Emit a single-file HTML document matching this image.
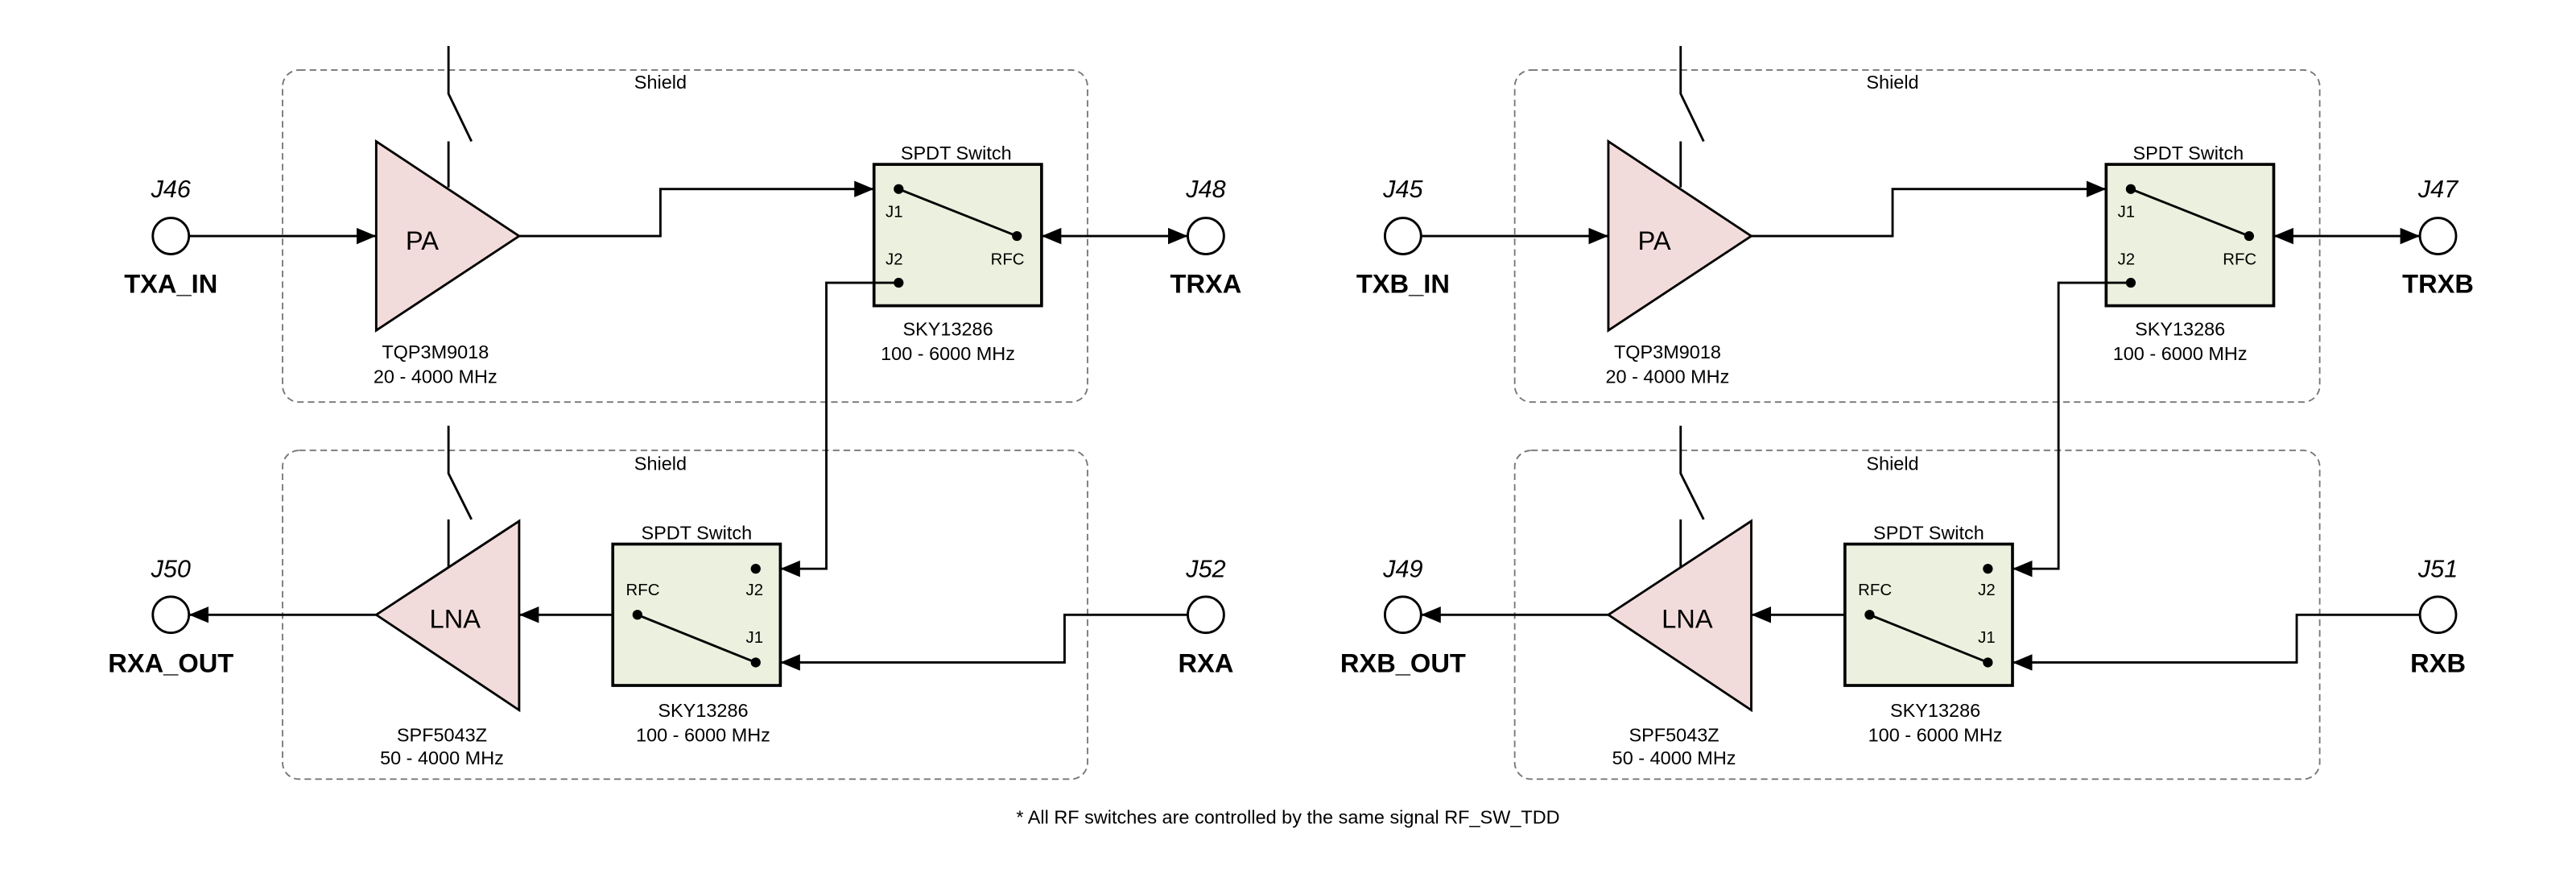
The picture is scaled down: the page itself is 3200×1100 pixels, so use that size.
<!DOCTYPE html>
<html><head><meta charset="utf-8"><style>
html,body{margin:0;padding:0;background:#fff;}
svg{display:block;}
text{font-family:"Liberation Sans",sans-serif;fill:#000;}
.s{font-size:11.5px;text-anchor:middle;}
.sm{font-size:10px;}
.j{font-size:15px;font-style:italic;text-anchor:middle;}
.b{font-size:16px;font-weight:bold;text-anchor:middle;}
.ln{stroke:#000;stroke-width:1.4;fill:none;}
.sh{stroke:#777;stroke-width:0.9;fill:none;stroke-dasharray:4 2.5;}
</style></head><body>
<svg width="3200" height="1100" viewBox="0 0 1568 539" preserveAspectRatio="none" xmlns="http://www.w3.org/2000/svg">
<defs>
<marker id="a" markerWidth="12" markerHeight="10" refX="12" refY="5" orient="auto" markerUnits="userSpaceOnUse"><path d="M0,0 L12,5 L0,10 Z" fill="#000"/></marker>
</defs>

<g id="L">
<rect class="sh" x="172" y="42.6" width="490" height="202" rx="10"/>
<rect class="sh" x="172" y="274" width="490" height="200" rx="10"/>
<text class="s" x="402" y="54">Shield</text>
<text class="s" x="402" y="286">Shield</text>
<polyline class="ln" points="273,28 273,57 287,86"/>
<line class="ln" x1="273" y1="86" x2="273" y2="114"/>
<polyline class="ln" points="273,259 273,288 287,316"/>
<line class="ln" x1="273" y1="316" x2="273" y2="345"/>
<polygon points="229,86 316,143.6 229,201" fill="#f2dcdb" stroke="#000" stroke-width="1.4"/>
<text x="257" y="152" style="font-size:16px;text-anchor:middle">PA</text>
<polygon points="229,374 316,317 316,432" fill="#f2dcdb" stroke="#000" stroke-width="1.4"/>
<text x="277" y="382" style="font-size:16px;text-anchor:middle">LNA</text>
<text class="s" x="265" y="218">TQP3M9018</text>
<text class="s" x="265" y="233">20 - 4000 MHz</text>
<text class="s" x="269" y="451">SPF5043Z</text>
<text class="s" x="269" y="465">50 - 4000 MHz</text>
<rect x="532" y="100" width="102" height="86" fill="#ebf1de" stroke="#000" stroke-width="1.8"/>
<text class="s" x="582" y="97">SPDT Switch</text>
<text class="s" x="577" y="204">SKY13286</text>
<text class="s" x="577" y="219">100 - 6000 MHz</text>
<line class="ln" x1="547" y1="115" x2="619" y2="143.6"/>
<circle cx="547" cy="115" r="3" fill="#000"/><circle cx="619" cy="143.6" r="3" fill="#000"/><circle cx="547" cy="172" r="3" fill="#000"/>
<text class="sm" x="539" y="132">J1</text><text class="sm" x="539" y="161">J2</text><text class="sm" x="603" y="161">RFC</text>
<rect x="373" y="331" width="102" height="86" fill="#ebf1de" stroke="#000" stroke-width="1.8"/>
<text class="s" x="424" y="328">SPDT Switch</text>
<text class="s" x="428" y="436">SKY13286</text>
<text class="s" x="428" y="451">100 - 6000 MHz</text>
<line class="ln" x1="388" y1="374" x2="460" y2="403"/>
<circle cx="388" cy="374" r="3" fill="#000"/><circle cx="460" cy="346" r="3" fill="#000"/><circle cx="460" cy="403" r="3" fill="#000"/>
<text class="sm" x="381" y="362">RFC</text><text class="sm" x="454" y="362">J2</text><text class="sm" x="454" y="391">J1</text>
<line class="ln" x1="115" y1="143.6" x2="229" y2="143.6" marker-end="url(#a)"/>
<polyline class="ln" points="316,143.6 402,143.6 402,115 532,115" marker-end="url(#a)"/>
<polyline class="ln" points="547,172 503,172 503,346 475,346" marker-end="url(#a)"/>
<line class="ln" x1="660" y1="143.6" x2="634" y2="143.6" marker-end="url(#a)"/>
<line class="ln" x1="660" y1="143.6" x2="723" y2="143.6" marker-end="url(#a)"/>
<line class="ln" x1="229" y1="374" x2="115" y2="374" marker-end="url(#a)"/>
<line class="ln" x1="373" y1="374" x2="316" y2="374" marker-end="url(#a)"/>
<polyline class="ln" points="723,374 648,374 648,403 475,403" marker-end="url(#a)"/>
<circle cx="104" cy="143.6" r="11" fill="#fff" stroke="#000" stroke-width="1.4"/>
<circle cx="734" cy="143.6" r="11" fill="#fff" stroke="#000" stroke-width="1.4"/>
<circle cx="104" cy="374" r="11" fill="#fff" stroke="#000" stroke-width="1.4"/>
<circle cx="734" cy="374" r="11" fill="#fff" stroke="#000" stroke-width="1.4"/>
</g>
<text class="j" x="104" y="120">J46</text><text class="b" x="104" y="178">TXA_IN</text>
<text class="j" x="734" y="120">J48</text><text class="b" x="734" y="178">TRXA</text>
<text class="j" x="104" y="351">J50</text><text class="b" x="104" y="409">RXA_OUT</text>
<text class="j" x="734" y="351">J52</text><text class="b" x="734" y="409">RXA</text>

<g transform="translate(750,0)">
<rect class="sh" x="172" y="42.6" width="490" height="202" rx="10"/>
<rect class="sh" x="172" y="274" width="490" height="200" rx="10"/>
<text class="s" x="402" y="54">Shield</text>
<text class="s" x="402" y="286">Shield</text>
<polyline class="ln" points="273,28 273,57 287,86"/>
<line class="ln" x1="273" y1="86" x2="273" y2="114"/>
<polyline class="ln" points="273,259 273,288 287,316"/>
<line class="ln" x1="273" y1="316" x2="273" y2="345"/>
<polygon points="229,86 316,143.6 229,201" fill="#f2dcdb" stroke="#000" stroke-width="1.4"/>
<text x="257" y="152" style="font-size:16px;text-anchor:middle">PA</text>
<polygon points="229,374 316,317 316,432" fill="#f2dcdb" stroke="#000" stroke-width="1.4"/>
<text x="277" y="382" style="font-size:16px;text-anchor:middle">LNA</text>
<text class="s" x="265" y="218">TQP3M9018</text>
<text class="s" x="265" y="233">20 - 4000 MHz</text>
<text class="s" x="269" y="451">SPF5043Z</text>
<text class="s" x="269" y="465">50 - 4000 MHz</text>
<rect x="532" y="100" width="102" height="86" fill="#ebf1de" stroke="#000" stroke-width="1.8"/>
<text class="s" x="582" y="97">SPDT Switch</text>
<text class="s" x="577" y="204">SKY13286</text>
<text class="s" x="577" y="219">100 - 6000 MHz</text>
<line class="ln" x1="547" y1="115" x2="619" y2="143.6"/>
<circle cx="547" cy="115" r="3" fill="#000"/><circle cx="619" cy="143.6" r="3" fill="#000"/><circle cx="547" cy="172" r="3" fill="#000"/>
<text class="sm" x="539" y="132">J1</text><text class="sm" x="539" y="161">J2</text><text class="sm" x="603" y="161">RFC</text>
<rect x="373" y="331" width="102" height="86" fill="#ebf1de" stroke="#000" stroke-width="1.8"/>
<text class="s" x="424" y="328">SPDT Switch</text>
<text class="s" x="428" y="436">SKY13286</text>
<text class="s" x="428" y="451">100 - 6000 MHz</text>
<line class="ln" x1="388" y1="374" x2="460" y2="403"/>
<circle cx="388" cy="374" r="3" fill="#000"/><circle cx="460" cy="346" r="3" fill="#000"/><circle cx="460" cy="403" r="3" fill="#000"/>
<text class="sm" x="381" y="362">RFC</text><text class="sm" x="454" y="362">J2</text><text class="sm" x="454" y="391">J1</text>
<line class="ln" x1="115" y1="143.6" x2="229" y2="143.6" marker-end="url(#a)"/>
<polyline class="ln" points="316,143.6 402,143.6 402,115 532,115" marker-end="url(#a)"/>
<polyline class="ln" points="547,172 503,172 503,346 475,346" marker-end="url(#a)"/>
<line class="ln" x1="660" y1="143.6" x2="634" y2="143.6" marker-end="url(#a)"/>
<line class="ln" x1="660" y1="143.6" x2="723" y2="143.6" marker-end="url(#a)"/>
<line class="ln" x1="229" y1="374" x2="115" y2="374" marker-end="url(#a)"/>
<line class="ln" x1="373" y1="374" x2="316" y2="374" marker-end="url(#a)"/>
<polyline class="ln" points="723,374 648,374 648,403 475,403" marker-end="url(#a)"/>
<circle cx="104" cy="143.6" r="11" fill="#fff" stroke="#000" stroke-width="1.4"/>
<circle cx="734" cy="143.6" r="11" fill="#fff" stroke="#000" stroke-width="1.4"/>
<circle cx="104" cy="374" r="11" fill="#fff" stroke="#000" stroke-width="1.4"/>
<circle cx="734" cy="374" r="11" fill="#fff" stroke="#000" stroke-width="1.4"/>
<text class="j" x="104" y="120">J45</text><text class="b" x="104" y="178">TXB_IN</text>
<text class="j" x="734" y="120">J47</text><text class="b" x="734" y="178">TRXB</text>
<text class="j" x="104" y="351">J49</text><text class="b" x="104" y="409">RXB_OUT</text>
<text class="j" x="734" y="351">J51</text><text class="b" x="734" y="409">RXB</text>
</g>
<text class="s" x="784" y="501">* All RF switches are controlled by the same signal RF_SW_TDD</text>
</svg>
</body></html>
